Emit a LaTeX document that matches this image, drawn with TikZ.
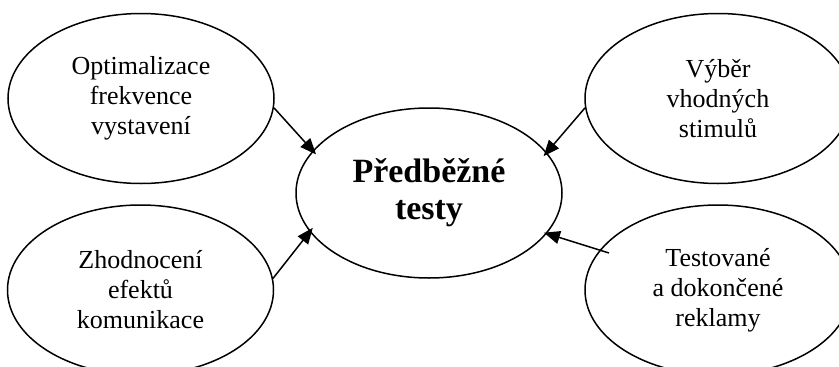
\documentclass[tikz,border=0pt]{standalone}
\usepackage{fontspec}
\setmainfont{Liberation Serif}
\usetikzlibrary{arrows.meta,shapes.geometric}
\begin{document}
\begin{tikzpicture}[x=1pt,y=-1pt,
  bubble/.style={ellipse,draw,line width=1.5pt,minimum width=266pt,minimum height=170pt,
    inner sep=0pt,align=center,font=\fontsize{26}{30}\selectfont},
  hub/.style={bubble,font=\fontsize{34}{37}\selectfont\bfseries},
  arr/.style={line width=1.5pt,-{Triangle[length=16pt,width=13pt]},shorten >=-5pt}]
  \useasboundingbox (0,0) rectangle (839,367);
  \clip (0,0) rectangle (839,367);
  \fill[white] (0,0) rectangle (839,367);

  % central topic and the four surrounding activities
  \node[hub]    (c)  at (429,193)   {Předběžné\\testy};
  \node[bubble] (tl) at (141,98.5)  {Optimalizace\\frekvence\\vystavení};
  \node[bubble] (tr) at (718,98.5)  {Výběr\\vhodných\\stimulů};
  \node[bubble] (bl) at (140.5,290) {Zhodnocení\\efektů\\komunikace};
  \node[bubble] (br) at (718,290)   {Testované\\a dokončené\\reklamy};

  \coordinate (brstart) at (609,253);

  % arrows pointing into the centre
  \draw[arr] (tl.-4.5) -- (c.160);
  \draw[arr] (tr.184)  -- (c.19);
  \draw[arr] (bl.5)    -- (c.198.7);
  \draw[arr,shorten >=-3pt] (brstart) -- (c.-19.4);
\end{tikzpicture}
\end{document}
